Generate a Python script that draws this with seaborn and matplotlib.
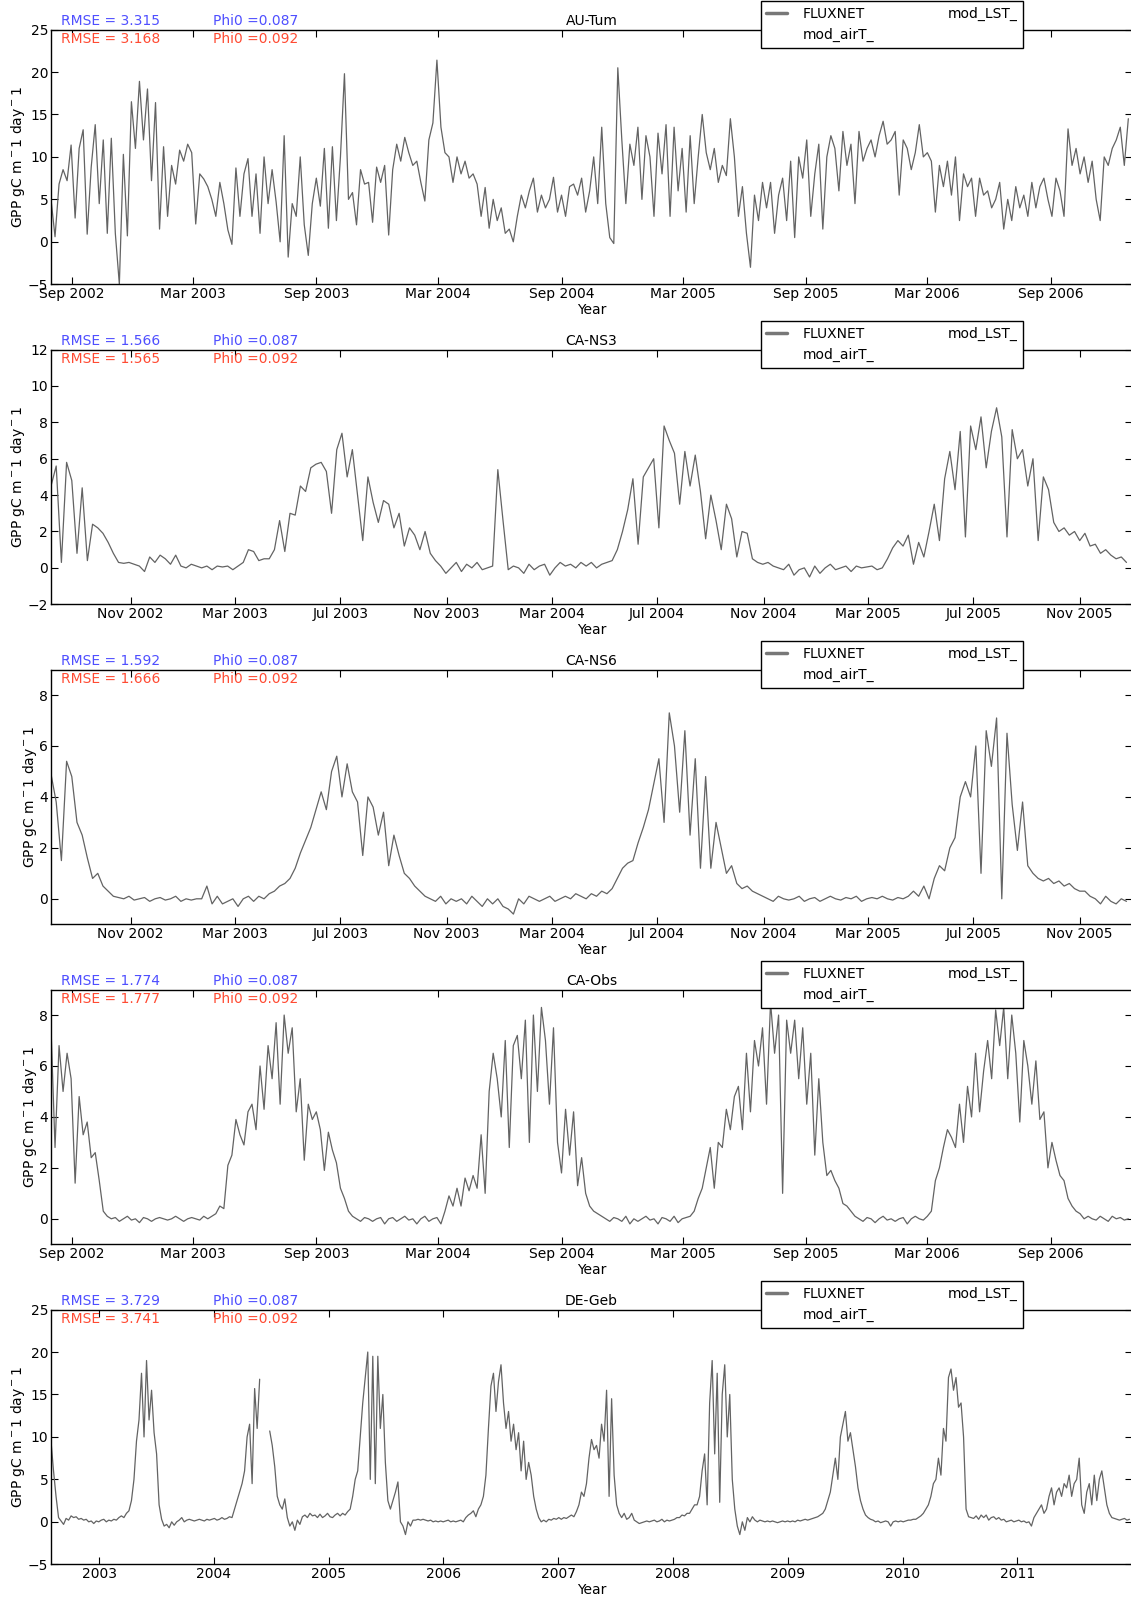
# FLUXNET GPP time series for five sites, plotted with seaborn
import numpy as np
import pandas as pd
import matplotlib
matplotlib.use('Agg')
import matplotlib.pyplot as plt
import matplotlib.dates as mdates
from matplotlib.lines import Line2D
import seaborn as sns

sns.set_theme(style='ticks')
plt.rcParams.update({
    'font.family': ['DejaVu Sans'],
    'font.size': 10,
    'axes.titlesize': 10,
    'axes.labelsize': 10,
    'xtick.labelsize': 10,
    'ytick.labelsize': 10,
    'legend.fontsize': 10,
    'axes.edgecolor': 'black',
    'axes.labelcolor': 'black',
    'text.color': 'black',
    'xtick.color': 'black',
    'ytick.color': 'black',
    'axes.linewidth': 1.0,
})

sites = ['AU-Tum', 'CA-NS3', 'CA-NS6', 'CA-Obs', 'DE-Geb']
rmse_lst = [3.315, 1.566, 1.592, 1.774, 3.729]
rmse_airt = [3.168, 1.565, 1.666, 1.777, 3.741]
phi0_lst = 0.087
phi0_airt = 0.092

# GPP, every 6 days from 2002-08-01 (DE-Geb: every 8 days)
au_tum = [
    5.0, 0.6, 6.8, 8.5, 7.2, 11.4, 2.8, 11.0, 13.2, 0.9,
    8.8, 13.8, 4.5, 12.0, 1.0, 12.2, 1.0, -5.0, 10.3, 0.7,
    16.5, 11.0, 18.9, 12.0, 18.0, 7.2, 16.4, 1.5, 11.2, 3.0,
    9.0, 6.8, 10.8, 9.5, 11.5, 10.5, 2.1, 8.0, 7.4, 6.5,
    5.0, 3.0, 7.0, 4.5, 1.4, -0.3, 8.7, 3.0, 8.0, 9.8,
    3.0, 8.0, 1.0, 10.0, 4.5, 8.5, 4.7, 0.0, 12.5, -1.8,
    4.5, 3.0, 10.0, 2.0, -1.6, 4.5, 7.5, 4.2, 11.0, 1.6,
    11.2, 2.5, 10.0, 19.8, 5.0, 5.8, 2.0, 8.5, 6.8, 7.0,
    2.3, 8.8, 7.0, 9.0, 0.8, 8.5, 11.5, 9.5, 12.3, 10.5,
    9.0, 9.5, 7.0, 4.8, 12.0, 14.0, 21.4, 13.5, 10.5, 10.0,
    7.0, 10.0, 8.0, 9.5, 7.5, 8.0, 6.8, 3.0, 6.4, 1.6,
    5.0, 2.5, 4.0, 1.0, 1.5, 0.0, 3.0, 5.5, 4.0, 6.0,
    7.5, 3.5, 5.5, 4.0, 5.0, 7.6, 3.5, 5.5, 3.0, 6.5,
    6.8, 5.5, 7.5, 3.5, 6.0, 10.0, 4.5, 13.5, 4.5, 0.5,
    -0.2, 20.5, 12.0, 4.5, 11.5, 9.0, 13.5, 5.0, 12.5, 10.0,
    3.0, 12.8, 8.0, 13.8, 3.0, 13.5, 6.0, 11.0, 3.5, 12.5,
    4.5, 10.0, 15.0, 10.5, 8.5, 11.0, 7.0, 9.0, 7.8, 14.5,
    10.0, 3.0, 6.5, 1.0, -3.0, 5.5, 2.5, 7.0, 4.0, 7.0,
    1.0, 5.5, 7.5, 2.5, 9.5, 0.5, 10.0, 7.5, 12.0, 3.0,
    8.0, 11.5, 1.5, 10.0, 12.5, 11.0, 6.0, 13.0, 9.0, 11.5,
    4.5, 13.0, 9.5, 11.0, 12.0, 10.0, 12.5, 14.2, 11.5, 12.0,
    13.0, 5.5, 12.0, 11.0, 8.5, 10.5, 13.8, 10.0, 10.5, 9.5,
    3.5, 9.0, 6.5, 9.5, 5.5, 10.0, 2.5, 8.0, 6.5, 7.5,
    3.0, 7.5, 5.5, 6.0, 4.0, 5.0, 7.0, 1.5, 5.0, 2.5,
    6.5, 4.0, 5.5, 3.0, 7.0, 4.0, 6.5, 7.5, 5.0, 3.0,
    7.5, 6.0, 3.0, 13.3, 9.0, 11.0, 8.0, 10.0, 7.0, 9.5,
    5.0, 2.5, 10.0, 9.0, 11.0, 12.0, 13.5, 9.0, 14.5,
]

ca_ns3 = [
    4.5, 5.6, 0.3, 5.8, 4.8, 0.8, 4.4, 0.4, 2.4, 2.2,
    1.9, 1.4, 0.8, 0.3, 0.25, 0.3, 0.2, 0.1, -0.2, 0.6,
    0.3, 0.7, 0.5, 0.2, 0.7, 0.1, 0.0, 0.2, 0.1, 0.0,
    0.1, -0.1, 0.1, 0.05, 0.1, -0.1, 0.1, 0.3, 1.0, 0.9,
    0.4, 0.5, 0.5, 1.0, 2.6, 0.9, 3.0, 2.9, 4.5, 4.2,
    5.5, 5.7, 5.8, 5.3, 3.0, 6.5, 7.4, 5.0, 6.5, 4.0,
    1.5, 5.0, 3.6, 2.5, 3.7, 3.5, 2.2, 3.0, 1.2, 2.2,
    1.8, 1.0, 2.0, 0.8, 0.4, 0.1, -0.3, 0.0, 0.3, -0.2,
    0.2, 0.0, 0.3, -0.1, 0.0, 0.1, 5.4, 2.6, -0.1, 0.1,
    0.0, -0.3, 0.2, -0.1, 0.1, 0.2, -0.4, 0.0, 0.3, 0.1,
    0.2, 0.0, 0.3, 0.1, 0.3, 0.0, 0.2, 0.3, 0.4, 1.0,
    2.0, 3.2, 4.9, 1.3, 5.0, 5.5, 6.0, 2.2, 7.8, 7.0,
    6.3, 3.5, 6.4, 4.5, 6.2, 4.2, 1.6, 4.0, 2.6, 1.0,
    3.5, 2.7, 0.6, 2.0, 1.9, 0.5, 0.3, 0.2, 0.3, 0.1,
    0.0, -0.1, 0.2, -0.4, -0.1, 0.0, -0.5, 0.1, -0.3, 0.0,
    0.2, -0.1, 0.0, 0.1, -0.2, 0.1, 0.0, 0.05, 0.1, -0.1,
    0.0, 0.5, 1.1, 1.5, 1.2, 1.8, 0.2, 1.4, 0.6, 2.0,
    3.5, 1.5, 4.9, 6.4, 4.3, 7.5, 1.7, 7.8, 6.5, 8.3,
    5.5, 7.5, 8.8, 7.2, 1.7, 7.6, 6.0, 6.5, 4.5, 6.0,
    1.5, 5.0, 4.3, 2.5, 2.0, 2.2, 1.8, 2.0, 1.5, 1.9,
    1.2, 1.3, 0.8, 1.0, 0.7, 0.5, 0.6, 0.3,
]

ca_ns6 = [
    4.9, 3.8, 1.5, 5.4, 4.8, 3.0, 2.5, 1.6, 0.8, 1.0,
    0.5, 0.3, 0.1, 0.05, 0.0, 0.1, -0.05, 0.0, 0.05, -0.1,
    0.0, 0.05, -0.05, 0.0, 0.1, -0.1, 0.0, -0.05, 0.0, 0.0,
    0.5, -0.2, 0.1, -0.2, -0.1, 0.0, -0.3, 0.0, 0.1, -0.1,
    0.1, 0.0, 0.2, 0.3, 0.5, 0.6, 0.8, 1.2, 1.8, 2.3,
    2.8, 3.5, 4.2, 3.5, 5.0, 5.6, 4.0, 5.3, 4.2, 3.8,
    1.7, 4.0, 3.6, 2.5, 3.4, 1.3, 2.5, 1.7, 1.0, 0.8,
    0.5, 0.3, 0.1, 0.0, -0.1, 0.1, -0.2, 0.0, -0.1, 0.0,
    -0.2, 0.1, -0.1, -0.3, 0.0, -0.2, 0.0, -0.3, -0.4, -0.6,
    0.0, -0.2, 0.1, 0.0, -0.1, 0.0, 0.1, -0.1, 0.0, 0.1,
    0.0, 0.2, 0.1, 0.0, 0.2, 0.1, 0.3, 0.2, 0.4, 0.8,
    1.2, 1.4, 1.5, 2.2, 2.8, 3.5, 4.5, 5.5, 3.0, 7.3,
    6.0, 3.4, 6.6, 2.5, 5.5, 1.2, 4.8, 1.2, 3.0, 2.0,
    1.0, 1.3, 0.6, 0.4, 0.5, 0.3, 0.2, 0.1, 0.0, -0.1,
    0.1, 0.0, -0.05, 0.0, 0.1, -0.1, 0.0, 0.05, -0.1, 0.0,
    0.1, 0.0, -0.05, 0.05, 0.0, 0.1, -0.1, 0.0, 0.05, 0.0,
    0.1, 0.0, -0.05, 0.05, 0.0, 0.1, 0.3, 0.1, 0.5, 0.0,
    0.8, 1.3, 1.1, 2.0, 2.4, 4.0, 4.6, 4.0, 6.0, 1.0,
    6.6, 5.2, 7.1, 0.0, 6.5, 3.7, 1.9, 3.8, 1.3, 1.0,
    0.8, 0.7, 0.8, 0.6, 0.7, 0.5, 0.6, 0.4, 0.3, 0.3,
    0.1, 0.0, -0.2, 0.1, -0.1, -0.2, 0.0, -0.1,
]

ca_obs = [
    7.5, 2.8, 6.8, 5.0, 6.5, 5.5, 1.4, 4.8, 3.3, 3.8,
    2.4, 2.6, 1.5, 0.3, 0.1, 0.0, 0.05, -0.1, 0.0, 0.1,
    -0.05, 0.0, -0.15, 0.05, 0.0, -0.1, 0.0, 0.05, 0.0, -0.05,
    0.0, 0.1, 0.0, -0.1, 0.0, 0.05, 0.0, -0.05, 0.1, 0.0,
    0.1, 0.2, 0.5, 0.4, 2.1, 2.5, 3.9, 3.3, 2.9, 4.2,
    4.5, 3.5, 6.0, 4.3, 6.8, 5.5, 7.7, 4.5, 8.0, 6.5,
    7.5, 4.2, 5.5, 2.3, 4.5, 3.9, 4.2, 3.5, 1.9, 3.4,
    2.7, 2.2, 1.2, 0.8, 0.3, 0.1, 0.0, -0.1, 0.05, 0.0,
    -0.1, 0.0, 0.05, -0.2, 0.0, 0.05, -0.1, 0.0, 0.1, -0.05,
    0.0, -0.2, 0.0, 0.1, -0.1, 0.0, 0.05, -0.2, 0.3, 0.9,
    0.5, 1.2, 0.5, 1.6, 1.1, 1.7, 1.2, 3.3, 1.0, 5.0,
    6.5, 5.5, 4.0, 7.0, 2.8, 6.8, 7.2, 5.5, 7.8, 3.0,
    8.0, 5.0, 8.3, 7.0, 4.5, 7.5, 3.0, 1.8, 4.3, 2.5,
    4.2, 1.3, 2.4, 1.0, 0.5, 0.3, 0.2, 0.1, 0.0, -0.1,
    0.05, 0.0, -0.1, 0.1, -0.2, 0.0, -0.1, 0.0, 0.1, -0.05,
    0.0, -0.2, 0.05, 0.0, -0.1, 0.1, -0.15, 0.0, 0.05, 0.1,
    0.3, 0.8, 1.2, 2.0, 2.8, 1.2, 3.0, 2.8, 4.3, 3.5,
    4.8, 5.2, 3.5, 6.5, 4.2, 7.0, 6.0, 7.5, 4.5, 8.5,
    6.5, 8.0, 1.0, 7.8, 6.5, 7.8, 5.5, 7.5, 4.5, 6.5,
    2.5, 5.5, 3.0, 1.7, 1.9, 1.5, 1.2, 0.6, 0.5, 0.3,
    0.1, 0.0, -0.1, 0.05, 0.0, -0.15, 0.0, 0.1, -0.05, 0.0,
    -0.1, 0.0, 0.05, -0.2, 0.0, 0.1, 0.0, -0.05, 0.1, 0.3,
    1.5, 2.0, 2.8, 3.5, 3.2, 2.8, 4.5, 3.0, 5.2, 4.0,
    6.5, 4.2, 5.8, 7.0, 5.5, 8.2, 6.8, 8.3, 5.5, 8.0,
    6.5, 3.8, 7.0, 6.0, 4.5, 6.2, 3.9, 4.2, 2.0, 3.0,
    2.3, 1.7, 1.5, 0.8, 0.5, 0.3, 0.2, 0.0, 0.1, 0.0,
    -0.05, 0.1, 0.0, -0.1, 0.1, 0.0, 0.05, -0.05, 0.0,
]

de_geb = [
    9.5, 6.0, 3.0, 0.5, 0.1, -0.3, 0.4, 0.2, 0.7, 0.5,
    0.6, 0.3, 0.4, 0.2, 0.3, 0.0, 0.1, -0.2, 0.1, 0.0,
    0.2, 0.3, 0.0, 0.2, 0.1, 0.3, 0.2, 0.5, 0.7, 0.5,
    1.0, 1.3, 2.5, 5.0, 9.5, 12.0, 17.5, 10.0, 19.0, 12.0,
    15.5, 10.5, 8.0, 2.0, 0.3, -0.5, -0.3, -0.7, 0.0, -0.4,
    0.0, 0.2, 0.5, 0.0, 0.2, 0.3, 0.2, 0.1, 0.2, 0.3,
    0.2, 0.1, 0.3, 0.2, 0.3, 0.4, 0.2, 0.3, 0.5, 0.3,
    0.4, 0.6, 0.5, 1.5, 2.5, 3.5, 4.5, 6.0, 10.0, 11.5,
    4.5, 15.7, 11.0, 16.8, np.nan, np.nan, np.nan, 10.7, 9.0, 6.5,
    3.0, 2.0, 1.5, 2.7, 0.5, -0.5, 0.0, -1.0, 0.2, -0.3,
    0.6, 0.8, 0.5, 1.0, 0.7, 0.8, 0.5, 0.9, 0.5, 0.7,
    1.0, 0.6, 0.5, 0.8, 1.0, 0.7, 1.0, 0.8, 1.2, 1.5,
    3.0, 5.0, 6.0, 10.0, 14.0, 17.0, 20.0, 5.0, 19.5, 4.5,
    19.5, 11.0, 15.0, 7.0, 2.5, 1.5, 2.5, 3.5, 4.7, 0.0,
    -0.5, -1.5, 0.0, -0.5, 0.2, 0.2, 0.3, 0.2, 0.3, 0.2,
    0.1, 0.2, 0.0, 0.1, 0.0, 0.1, 0.0, 0.1, 0.2, 0.0,
    0.1, 0.0, 0.1, 0.2, 0.0, 0.5, 0.8, 1.0, 1.3, 0.6,
    1.5, 2.0, 3.0, 5.5, 11.0, 16.0, 17.5, 13.0, 16.5, 18.5,
    14.0, 11.0, 13.0, 9.5, 11.5, 8.5, 10.5, 6.0, 9.5, 5.0,
    7.0, 5.5, 3.0, 1.5, 0.5, 0.0, 0.2, 0.0, 0.3, 0.2,
    0.4, 0.3, 0.5, 0.3, 0.5, 0.4, 0.6, 0.8, 0.6, 1.2,
    2.0, 3.5, 3.0, 4.5, 7.5, 9.7, 8.5, 9.0, 7.5, 11.5,
    9.5, 15.5, 3.0, 14.5, 5.5, 2.0, 1.0, 0.5, 1.0, 0.3,
    0.5, 1.0, 0.2, 0.0, -0.2, -0.1, 0.0, 0.1, 0.0, 0.1,
    0.2, 0.0, 0.1, 0.3, 0.0, 0.2, 0.1, 0.2, 0.3, 0.5,
    0.5, 0.8, 0.7, 1.0, 1.0, 1.5, 2.0, 2.0, 3.0, 6.0,
    8.0, 2.0, 14.0, 19.0, 8.0, 17.5, 2.3, 15.0, 18.5, 10.0,
    15.0, 5.0, 1.5, -0.5, -1.5, 0.0, -1.0, 0.5, 0.0, 0.6,
    0.2, 0.0, 0.2, 0.1, 0.0, 0.1, 0.0, 0.1, 0.0, -0.1,
    0.0, 0.1, 0.0, 0.1, 0.0, 0.1, 0.0, 0.2, 0.1, 0.2,
    0.3, 0.2, 0.3, 0.4, 0.5, 0.6, 0.8, 1.0, 1.5, 2.5,
    3.5, 5.5, 7.5, 5.0, 10.0, 11.5, 13.0, 9.5, 10.5, 8.5,
    6.5, 4.0, 2.5, 1.5, 0.8, 0.5, 0.3, 0.2, 0.0, 0.1,
    -0.1, 0.0, 0.1, 0.0, -0.5, 0.0, 0.1, 0.0, 0.1, 0.0,
    0.1, 0.2, 0.2, 0.3, 0.3, 0.5, 0.7, 1.0, 1.5, 2.0,
    3.0, 4.5, 5.0, 7.5, 5.5, 11.0, 9.5, 17.0, 18.0, 15.5,
    17.0, 13.5, 14.0, 10.0, 1.5, 0.6, 0.5, 0.4, 0.7, 0.3,
    0.8, 0.5, 0.8, 0.2, 0.5, 0.6, 0.3, 0.5, 0.2, 0.3,
    0.0, 0.1, 0.2, 0.0, 0.1, 0.2, 0.0, 0.1, -0.1, 0.0,
    -0.5, 0.5, 1.0, 1.5, 2.0, 1.0, 1.5, 3.0, 4.0, 2.0,
    3.5, 4.0, 3.0, 4.5, 4.0, 5.5, 3.0, 4.5, 5.0, 7.5,
    2.0, 1.0, 3.5, 4.5, 2.0, 5.5, 2.5, 5.0, 6.0, 4.0,
    2.0, 1.0, 0.5, 0.4, 0.3, 0.2, 0.3, 0.4, 0.2, 0.3,
]

series = [au_tum, ca_ns3, ca_ns6, ca_obs, de_geb]
steps = ['6D', '6D', '6D', '6D', '8D']
end_dates = ['2006-12-31', '2005-12-31', '2005-12-31', '2006-12-31', '2011-12-31']
ylims = [(-5, 25), (-2, 12), (-1, 9), (-1, 9), (-5, 25)]
yticks = [range(-5, 26, 5), range(-2, 13, 2), range(0, 9, 2), range(0, 9, 2), range(-5, 26, 5)]

line_col = '#636363'
blue = '#4f4fff'
red = '#ff4b33'

fig, axes = plt.subplots(5, 1, figsize=(11.31, 15.98), dpi=100)
fig.subplots_adjust(left=0.0451, right=1.0006, top=0.9815, bottom=0.0211, hspace=0.2564)

for k, ax in enumerate(axes):
    df = pd.DataFrame({
        'date': pd.date_range('2002-08-01', periods=len(series[k]), freq=steps[k]),
        'gpp': series[k],
    })
    # gaps in the record split the line into separate pieces
    df['piece'] = df['gpp'].isna().cumsum()
    df = df.dropna()
    sns.lineplot(data=df, x='date', y='gpp', units='piece', ax=ax, color=line_col,
                 lw=0.9, estimator=None, sort=False)

    ax.set_xlim(pd.Timestamp('2002-08-01'), pd.Timestamp(end_dates[k]))
    ax.set_ylim(*ylims[k])
    ax.set_yticks(list(yticks[k]))
    if k in (1, 2):
        ax.xaxis.set_major_locator(mdates.MonthLocator(bymonth=[3, 7, 11]))
        ax.xaxis.set_major_formatter(mdates.DateFormatter('%b %Y'))
    elif k == 4:
        ax.xaxis.set_major_locator(mdates.YearLocator())
        ax.xaxis.set_major_formatter(mdates.DateFormatter('%Y'))
    else:
        ax.xaxis.set_major_locator(mdates.MonthLocator(bymonth=[3, 9]))
        ax.xaxis.set_major_formatter(mdates.DateFormatter('%b %Y'))
    ax.tick_params(direction='in', top=True, right=True, length=5, width=0.8, pad=2)

    ax.set_title(sites[k], pad=3)
    ax.set_xlabel('Year', labelpad=1.5)
    ax.set_ylabel('GPP gC m$^-$1 day$^-$1', labelpad=0.5)

    ax.text(0.009, 1.032, 'RMSE = %.3f' % rmse_lst[k], transform=ax.transAxes,
            color=blue, va='center', ha='left')
    ax.text(0.009, 0.964, 'RMSE = %.3f' % rmse_airt[k], transform=ax.transAxes,
            color=red, va='center', ha='left')
    ax.text(0.15, 1.032, 'Phi0 =%.3f' % phi0_lst, transform=ax.transAxes,
            color=blue, va='center', ha='left')
    ax.text(0.15, 0.964, 'Phi0 =%.3f' % phi0_airt, transform=ax.transAxes,
            color=red, va='center', ha='left')

    handles = [Line2D([], [], color='#777777', lw=2.5),
               Line2D([], [], color='none'),
               Line2D([], [], color='none')]
    leg = ax.legend(handles, ['FLUXNET', 'mod_airT_', 'mod_LST_'], ncol=2,
                    loc='center', bbox_to_anchor=(0.778, 1.02), fancybox=False,
                    framealpha=1, edgecolor='black', handlelength=1.5,
                    handletextpad=1.1, columnspacing=2.7, borderpad=0.4)
    leg.get_frame().set_linewidth(1.0)

fig.savefig('out.png', dpi=100)
